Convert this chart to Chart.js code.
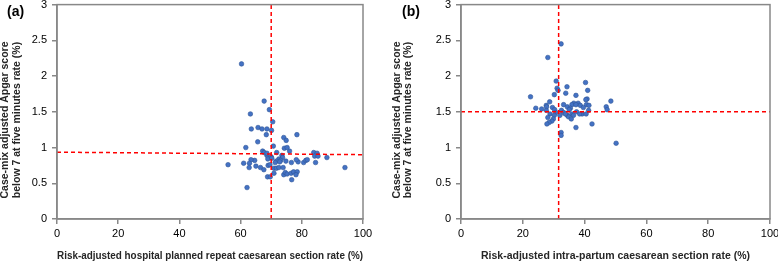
<!DOCTYPE html>
<html>
<head>
<meta charset="utf-8">
<script src="https://cdn.jsdelivr.net/npm/chart.js@4.4.1/dist/chart.umd.min.js"></script>
<style>
  html, body { margin: 0; padding: 0; background: #ffffff; }
  #wrap { position: relative; width: 778px; height: 261px; overflow: hidden; }
  .panel { position: absolute; top: 0; width: 389px; height: 261px; }
  .tag { position: absolute; top: 3px; font-family: "Liberation Sans", Arial, sans-serif; font-weight: bold; font-size: 14px; color: #000; }
</style>
</head>
<body>
<div id="wrap">
  <div class="panel" style="left:0"><canvas id="ca" width="389" height="261"></canvas></div>
  <div class="panel" style="left:389px"><canvas id="cb" width="389" height="261"></canvas></div>
  <div class="tag" style="left:7px">(a)</div>
  <div class="tag" style="left:402px">(b)</div>
</div>
<script>
// ---- Data ----
const xTicks = [0, 20, 40, 60, 80, 100];
const xTickLabels = ["0", "20", "40", "60", "80", "100"];
const yTicks = [0, 0.5, 1, 1.5, 2, 2.5, 3];
const yTickLabels = ["0", "0.5", "1", "1.5", "2", "2.5", "3"];

const yTitle = ["Case-mix adjusted Apgar score", "below 7 at five minutes rate (%)"];
const xTitleA = "Risk-adjusted hospital planned repeat caesarean section rate (%)";
const xTitleB = "Risk-adjusted intra-partum caesarean section rate (%)";

// Panel (a): planned repeat CS rate vs Apgar rate
const planX = [60.3, 67.7, 69.4, 63.2, 70.5, 63.5, 65.7, 67.0, 68.6, 70.1, 68.4, 78.4, 74.1, 74.9, 65.6, 70.7, 61.7, 74.3, 75.2, 76.0,
  67.2, 67.7, 71.8, 68.6, 70.0, 73.5, 73.7, 68.9, 64.6, 63.4, 72.5, 73.1, 71.7, 74.8, 71.3, 72.8, 76.6, 78.8, 78.2, 80.6,
  81.3, 81.8, 83.9, 85.0, 84.2, 85.3, 88.2, 84.5, 94.1, 55.9, 61.0, 62.9, 62.8, 65.0, 66.5, 67.6, 69.0, 69.6, 70.9, 71.7,
  72.5, 73.9, 70.9, 68.8, 69.7, 74.1, 74.6, 75.2, 76.5, 77.3, 78.5, 78.1, 76.7, 62.1, 68.6, 70.2];
const planY = [2.17, 1.65, 1.53, 1.47, 1.36, 1.26, 1.28, 1.26, 1.26, 1.24, 1.18, 1.18, 1.14, 1.10, 1.08, 1.02, 1.00, 0.99, 1.00, 0.95,
  0.95, 0.93, 0.93, 0.89, 0.87, 0.89, 0.86, 0.84, 0.82, 0.83, 0.84, 0.82, 0.81, 0.81, 0.79, 0.80, 0.79, 0.80, 0.83, 0.79,
  0.82, 0.83, 0.93, 0.92, 0.88, 0.88, 0.86, 0.79, 0.72, 0.76, 0.78, 0.78, 0.72, 0.74, 0.72, 0.69, 0.75, 0.76, 0.71, 0.71,
  0.72, 0.72, 0.64, 0.59, 0.59, 0.62, 0.65, 0.63, 0.64, 0.66, 0.66, 0.62, 0.55, 0.44, 0.92, 0.85];
const meanLineAx = [0, 100];
const meanLineAy = [0.935, 0.90];
const meanPlanX = 70;

// Panel (b): intra-partum CS rate vs Apgar rate
const intraX = [32.4, 28.1, 30.8, 40.3, 34.3, 31.1, 31.4, 41.0, 33.9, 30.2, 37.2, 22.5, 40.8, 40.4, 48.5, 28.7, 37.9, 36.5, 40.6, 41.4,
  27.6, 33.2, 35.9, 37.2, 38.6, 47.0, 27.7, 34.4, 39.6, 24.2, 26.1, 29.6, 35.4, 35.0, 47.3, 41.3, 27.6, 30.3, 32.5, 30.7,
  33.2, 37.4, 35.9, 39.2, 40.5, 28.8, 30.2, 32.0, 34.4, 36.4, 34.8, 28.1, 35.7, 29.9, 29.4, 28.5, 27.8, 42.4, 37.2, 32.4,
  32.4, 50.2, 38.4, 33.8];
const intraY = [2.45, 2.26, 1.93, 1.91, 1.85, 1.83, 1.80, 1.80, 1.76, 1.74, 1.73, 1.71, 1.68, 1.67, 1.65, 1.64, 1.62, 1.62, 1.60, 1.59,
  1.59, 1.60, 1.60, 1.60, 1.59, 1.57, 1.57, 1.57, 1.56, 1.55, 1.54, 1.56, 1.55, 1.53, 1.53, 1.52, 1.52, 1.53, 1.52, 1.49,
  1.49, 1.50, 1.47, 1.47, 1.47, 1.47, 1.45, 1.45, 1.45, 1.45, 1.43, 1.42, 1.40, 1.40, 1.37, 1.35, 1.33, 1.33, 1.28, 1.21,
  1.17, 1.06, 1.47, 1.47];
const meanLineBx = [0, 100];
const meanLineBy = [1.5, 1.5];
const meanIntraX = 31.6;

// ---- Chart builder ----
const axisGrey = '#888888';
const pointBlue = '#4472c4';
const dashRed = '#ff0000';
const titleColor = '#262626';
const labelFont = { family: '"Liberation Sans", Arial, sans-serif', size: 11 };
const titleFamily = '"Liberation Sans Narrow", "Liberation Sans", Arial, sans-serif';
const titleFont = { family: titleFamily, size: 10.5, weight: 'bold', lineHeight: 1.05 };

const frame = {
  id: 'frame',
  afterDatasetsDraw(chart) {
    const a = chart.chartArea, c = chart.ctx;
    c.save();
    c.strokeStyle = axisGrey;
    c.lineWidth = 1.5;
    c.strokeRect(a.left, a.top, a.right - a.left, a.bottom - a.top);
    c.restore();
  }
};

// Rotated two-line y axis title, placed explicitly
const yTitlePlugin = {
  id: 'yTitleLines',
  afterDraw(chart, args, opts) {
    const c = chart.ctx;
    c.save();
    c.font = 'bold 10.5px ' + titleFamily;
    c.fillStyle = titleColor;
    c.textAlign = 'center';
    c.textBaseline = 'middle';
    opts.lines.forEach((line, i) => {
      c.save();
      c.translate(opts.x + i * opts.gap, opts.cy);
      c.rotate(-Math.PI / 2);
      c.fillText(line, 0, 0);
      c.restore();
    });
    c.restore();
  }
};

function toPts(xs, ys) { return xs.map((x, i) => ({ x: x, y: ys[i] })); }

function build(id, xs, ys, hx, hy, vx, xTitle, yAxisWidth, rightPad, titleX) {
  new Chart(document.getElementById(id), {
    type: 'scatter',
    data: {
      datasets: [
        { data: toPts(hx, hy), showLine: true, borderColor: dashRed, borderWidth: 1.5, borderDash: [4, 3], pointRadius: 0, order: 0 },
        { data: [{ x: vx, y: yTicks[0] }, { x: vx, y: yTicks[yTicks.length - 1] }], showLine: true, borderColor: dashRed, borderWidth: 1.5, borderDash: [4, 3], pointRadius: 0, order: 0 },
        { data: toPts(xs, ys), pointRadius: 2.3, pointBackgroundColor: pointBlue, pointBorderColor: '#2f5597', pointBorderWidth: 0.6, order: 1 }
      ]
    },
    options: {
      responsive: false,
      animation: false,
      events: [],
      layout: { padding: { top: 4, right: rightPad, left: 0, bottom: 0 } },
      plugins: {
        legend: { display: false }, tooltip: { enabled: false },
        yTitleLines: { lines: yTitle, x: titleX, gap: 11.3, cy: 120 }
      },
      scales: {
        x: {
          type: 'linear', min: xTicks[0], max: xTicks[xTicks.length - 1],
          afterBuildTicks: s => { s.ticks = xTicks.map(v => ({ value: v })); },
          ticks: { color: '#000', font: labelFont, padding: 3, maxRotation: 0,
                   callback: (v, i) => xTickLabels[i] },
          grid: { drawOnChartArea: false, drawTicks: true, tickLength: 5, color: axisGrey, lineWidth: 1.5 },
          border: { display: true, color: axisGrey, width: 1.5 },
          title: { display: true, text: xTitle, color: titleColor, font: titleFont, padding: { top: 0, bottom: -1 } },
          afterFit: s => { s.height = 42; s.paddingLeft = 0; s.paddingRight = 0; }
        },
        y: {
          type: 'linear', min: yTicks[0], max: yTicks[yTicks.length - 1],
          afterBuildTicks: s => { s.ticks = yTicks.map(v => ({ value: v })); },
          ticks: { color: '#000', font: labelFont, padding: 5,
                   callback: (v, i) => yTickLabels[i] },
          grid: { drawOnChartArea: false, drawTicks: true, tickLength: 5, color: axisGrey, lineWidth: 1.5 },
          border: { display: true, color: axisGrey, width: 1.5 },
          title: { display: false },
          afterFit: s => { s.width = yAxisWidth; s.paddingTop = 0; s.paddingBottom = 0; }
        }
      }
    },
    plugins: [frame, yTitlePlugin]
  });
}

build('ca', planX, planY, meanLineAx, meanLineAy, meanPlanX, xTitleA, 57, 26, 5.5);
build('cb', intraX, intraY, meanLineBx, meanLineBy, meanIntraX, xTitleB, 72, 8, 8);
</script>
</body>
</html>
